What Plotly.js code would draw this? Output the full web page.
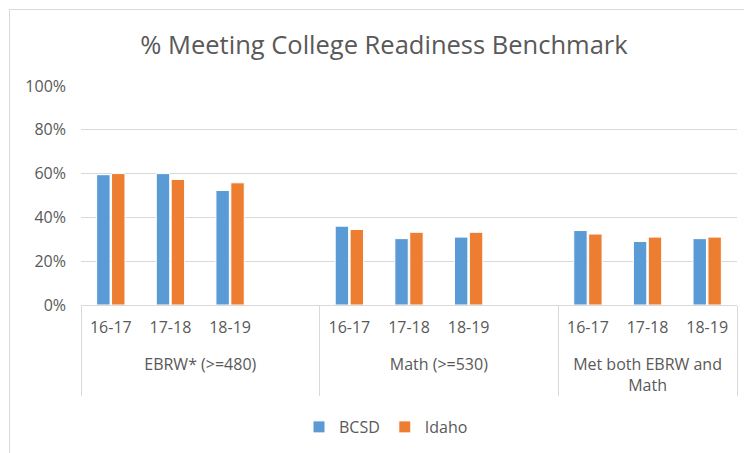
<!DOCTYPE html>
<html>
<head>
<meta charset="utf-8">
<script src="https://cdn.plot.ly/plotly-3.0.1.min.js"></script>
<style>
  html, body { margin: 0; padding: 0; background: #fff; overflow: hidden; }
  #frame { position: absolute; left: 9px; top: 9px; width: 800px; height: 500px;
           border: 1.5px solid #D9D9D9; pointer-events: none; z-index: 5; }
  #chart { position: absolute; left: 0; top: 0; width: 744px; height: 453px; }
</style>
</head>
<body>
<div id="chart"></div>
<div id="frame"></div>
<script>
// ---- data ----
var groups = ["EBRW* (>=480)", "Math (>=530)", "Met both EBRW and<br>Math"];
var years = ["16-17", "17-18", "18-19"];
// blank spacer slot after the first two groups (as in the source workbook);
// its blank two-line label only adds vertical room between the label rows
var spacer = "\u00a0<br>\u00a0";
var hasSpacer = [true, true, false];

var bcsd  = [[59.5, 60.0, 52.3], [36.0, 30.3, 31.0], [34.0, 29.0, 30.3]];
var idaho = [[60.0, 57.3, 55.8], [34.5, 33.2, 33.2], [32.4, 31.0, 31.0]];

// ---- build multicategory arrays ----
var xOuter = [], xInner = [], yB = [], yI = [];
for (var g = 0; g < groups.length; g++) {
  for (var k = 0; k < years.length; k++) {
    xOuter.push(groups[g]); xInner.push(years[k]);
    yB.push(bcsd[g][k] / 100); yI.push(idaho[g][k] / 100);
  }
  if (hasSpacer[g]) {
    xOuter.push(groups[g]); xInner.push(spacer);
    yB.push(null); yI.push(null);
  }
}

var FONT = "'Open Sans', 'Noto Sans', sans-serif";
var GRID = "#D9D9D9";
var TXT = "#595959";

var traces = [
  { type: "bar", name: "BCSD", x: [xOuter, xInner], y: yB,
    marker: { color: "#5B9BD5", line: { color: "#ffffff", width: 1 } },
    hoverinfo: "y" },
  { type: "bar", name: "Idaho", x: [xOuter, xInner], y: yI,
    marker: { color: "#ED7D31", line: { color: "#ffffff", width: 1 } },
    hoverinfo: "y" }
];

var layout = {
  width: 744, height: 453,
  margin: { l: 81, r: 7, t: 86, b: 148 },
  paper_bgcolor: "rgba(0,0,0,0)",
  plot_bgcolor: "#ffffff",
  font: { family: FONT, color: TXT, size: 16 },
  title: { text: "% Meeting College Readiness Benchmark",
           font: { family: FONT, size: 25.5, color: TXT },
           x: 384 / 744, xanchor: "center", xref: "container",
           y: 1 - 45 / 453, yanchor: "middle", yref: "container" },
  barmode: "group",
  bargap: 0.5,
  bargroupgap: 0.1,
  xaxis: {
    type: "multicategory",
    showline: true, linecolor: GRID, linewidth: 1,
    showdividers: true, dividercolor: GRID, dividerwidth: 1,
    ticks: "", showgrid: false,
    ticklabelstandoff: 8,
    tickfont: { family: FONT, size: 16, color: TXT }
  },
  yaxis: {
    range: [0, 1], dtick: 0.2, tickformat: ".0%",
    showgrid: true, gridcolor: GRID, gridwidth: 1,
    zeroline: false, showline: false, ticks: "",
    ticklabelstandoff: 14,
    tickfont: { family: FONT, size: 16, color: TXT }
  },
  showlegend: true,
  legend: { orientation: "h", x: (386 - 81) / 656, xanchor: "center",
            y: (305 - 427) / 219, yanchor: "middle",
            font: { family: FONT, size: 16, color: TXT } }
};

Plotly.newPlot("chart", traces, layout, { staticPlot: true, displayModeBar: false });
</script>
</body>
</html>
